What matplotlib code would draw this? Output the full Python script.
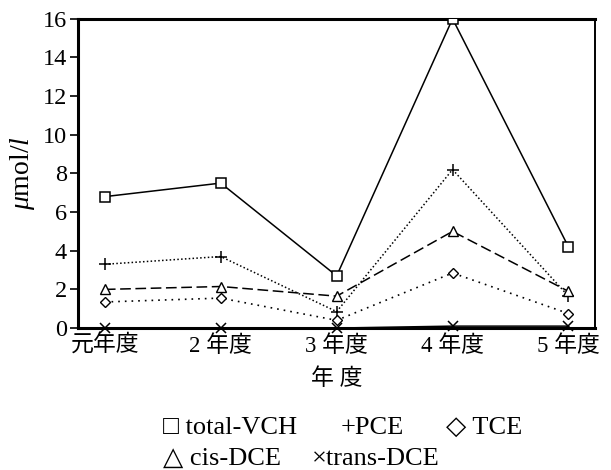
"""Yearly VCH concentrations, redrawn from a scanned figure."""

import matplotlib
matplotlib.use("Agg")
import matplotlib.pyplot as plt

plt.rcParams['font.family'] = ['Liberation Serif', 'Noto Sans CJK JP', 'DejaVu Sans']
plt.rcParams['mathtext.fontset'] = 'custom'
plt.rcParams['mathtext.rm'] = 'Liberation Serif'
plt.rcParams['mathtext.it'] = 'Liberation Serif:italic'

years = ["元年度", "2 年度", "3 年度", "4 年度", "5 年度"]
total_vch = [6.8, 7.5, 2.7, 16.0, 4.2]
pce = [3.3, 3.7, 0.85, 8.2, 1.65]
tce = [1.35, 1.55, 0.4, 2.85, 0.75]
cis_dce = [2.0, 2.15, 1.65, 5.0, 1.9]
trans_dce = [0.0, 0.0, 0.0, 0.1, 0.1]
y_ticks = [0, 2, 4, 6, 8, 10, 12, 14, 16]

# legend entries as drawn under the chart: (text, x in px, row)
legend_items = [
    ("□ total-VCH", 163, 0),
    ("+PCE", 341, 0),
    ("◇ TCE", 446, 0),
    ("△ cis-DCE", 163, 1),
    ("×trans-DCE", 312, 1),
]


def main() -> None:
    fig = plt.figure(figsize=(6.11, 4.70), dpi=100)
    ax = fig.add_axes([0.128, 0.302, 0.846, 0.658])
    x = list(range(len(years)))

    ax.plot(x, total_vch, color="black", lw=1.1, ls="-", marker="s",
            ms=7, mfc="white", mec="black", mew=1.1, zorder=5)
    ax.plot(x, pce, color="black", lw=1.1, ls=(0, (1, 1.5)), marker="+",
            ms=9, mew=1.1, zorder=4)
    ax.plot(x, tce, color="black", lw=1.2, ls=(0, (1, 3)), marker="D",
            ms=5.5, mfc="white", mec="black", mew=1.0, zorder=4)
    ax.plot(x, cis_dce, color="black", lw=1.1, ls=(0, (7, 3)), marker="^",
            ms=7, mfc="white", mec="black", mew=1.0, zorder=4)
    ax.plot(x, trans_dce, color="black", lw=1.1, ls="-", marker="x",
            ms=7, mew=1.1, zorder=6, clip_on=False)

    ax.set_xlim(-0.23, 4.23)
    ax.set_ylim(0, 16)
    ax.set_yticks(y_ticks)
    ax.set_xticks(x)
    ax.set_xticklabels(years)
    ax.tick_params(axis="y", direction="out", length=6, width=1.2,
                   labelsize=17.5, pad=2)
    ax.tick_params(axis="x", length=0, labelsize=16.5, pad=5)
    for side in ["left", "bottom", "top"]:
        ax.spines[side].set_linewidth(2.2)
    ax.spines["right"].set_linewidth(1.4)

    ax.set_xlabel("年 度", fontsize=16.5, labelpad=8)
    ax.set_ylabel(r"$\mu$mol/$l$", fontsize=20, labelpad=4)

    row_y = [428, 459]
    for label, px, row in legend_items:
        fig.text(px / 611, 1 - row_y[row] / 470, label, ha="left",
                 va="center", fontsize=19,
                 family=['Liberation Serif', 'DejaVu Sans'])

    fig.savefig("out.png", dpi=100)


if __name__ == "__main__":
    main()
